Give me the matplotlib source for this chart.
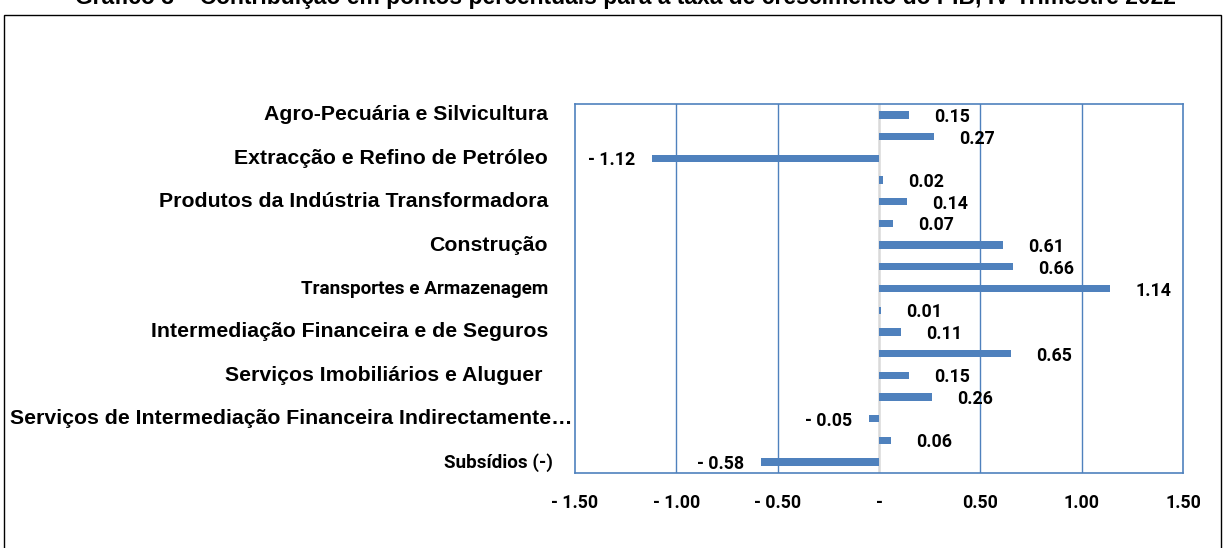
import matplotlib
matplotlib.use("Agg")
import matplotlib.pyplot as plt
import matplotlib.transforms as mtransforms
from matplotlib.patches import Rectangle

# Contribuição em p.p. (bars top to bottom)
values = [0.15, 0.27, -1.12, 0.02, 0.14, 0.07, 0.61, 0.66, 1.14,
          0.01, 0.11, 0.65, 0.15, 0.26, -0.05, 0.06, -0.58]

# only every other category is labelled in the original chart
categories = ["Agro-Pecuária e Silvicultura", "",
              "Extracção e Refino de Petróleo", "",
              "Produtos da Indústria Transformadora", "",
              "Construção", "",
              "Transportes e Armazenagem", "",
              "Intermediação Financeira e de Seguros", "",
              "Serviços Imobiliários e Aluguer ", "",
              "Serviços de Intermediação Financeira Indirectamente…", "",
              "Subsídios (-)"]
small_labels = ["Transportes e Armazenagem", "Subsídios (-)"]

xticks = [-1.5, -1.0, -0.5, 0.0, 0.5, 1.0, 1.5]

title = "Gráfico 3 – Contribuição em pontos percentuais para a taxa de crescimento do PIB, IV Trimestre 2022"

blue = "#4F81BD"
num_font = "Roboto"
cat_font = "Liberation Sans"


def fmt(v):
    if abs(v) < 1e-9:
        return "-"
    if v < 0:
        return "- %.2f" % abs(v)
    return "%.2f" % v


fig = plt.figure(figsize=(12.25, 5.48), dpi=100)
ax = fig.add_axes([575 / 1225, 1 - 473 / 548, 608 / 1225, 369 / 548])

# outer chart frame (bottom edge is off the picture)
fig.patches.append(Rectangle((4 / 1225, -0.05), 1217 / 1225, 1.05 - 15 / 548,
                             transform=fig.transFigure, fill=False,
                             edgecolor="black", linewidth=1.0))

fig.text(625 / 1225, 1 - 4 / 548, title, ha="center", va="baseline",
         fontsize=16.5, fontweight="bold", family=cat_font)

ypos = list(range(len(values)))
ax.barh(ypos, values, height=0.34, color=blue, zorder=3)

ax.set_xlim(-1.5, 1.5)
ax.set_ylim(len(values) - 0.5, -0.5)

for x in [-1.0, -0.5, 0.5, 1.0]:
    ax.axvline(x, color=blue, linewidth=1.0, zorder=1)
ax.axvline(0, color="#D9D9D9", linewidth=1.8, zorder=2)

for s in ax.spines.values():
    s.set_color(blue)
    s.set_linewidth(1.2)

ax.set_yticks([])
ax.set_xticks(xticks)
ax.set_xticklabels([fmt(t) for t in xticks], fontsize=12.8, fontweight="bold",
                   family=num_font)
ax.tick_params(axis="x", length=0, pad=15)

# value labels
for y, v in zip(ypos, values):
    if v >= 0:
        off = mtransforms.offset_copy(ax.transData, fig=fig, x=25, y=-2, units="dots")
        ax.text(v, y, fmt(v), transform=off, ha="left", va="center",
                fontsize=12.8, fontweight="bold", family=num_font)
    else:
        off = mtransforms.offset_copy(ax.transData, fig=fig, x=-17, y=-2, units="dots")
        ax.text(v, y, fmt(v), transform=off, ha="right", va="center",
                fontsize=12.8, fontweight="bold", family=num_font)

# category labels to the left of the plot area
lab_tr = mtransforms.blended_transform_factory(ax.transAxes, ax.transData)
for y, c in zip(ypos, categories):
    if not c:
        continue
    if c.endswith("…"):
        dx = -3
    elif c == "Subsídios (-)":
        dx = -22
    else:
        dx = -27
    off = mtransforms.offset_copy(lab_tr, fig=fig, x=dx, y=0, units="dots")
    if c in small_labels:
        ax.text(0, y, c, transform=off, ha="right", va="center",
                fontsize=13.6, fontweight="bold", family=num_font)
    else:
        ax.text(0, y, c, transform=off, ha="right", va="center",
                fontsize=15.3, fontweight="bold", family=cat_font)

plt.savefig("out.png", dpi=100)
